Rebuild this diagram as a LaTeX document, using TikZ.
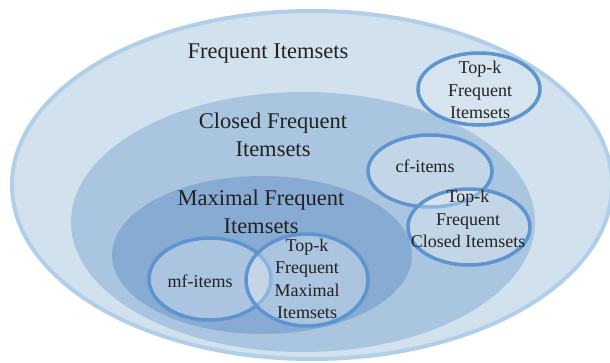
\documentclass[tikz,border=0pt]{standalone}
\usepackage{fontspec}
\setmainfont{Liberation Serif}
\definecolor{outerfill}{HTML}{D1E1EE}
\definecolor{outerdraw}{HTML}{B2CFEA}
\definecolor{closedfill}{HTML}{AAC5DF}
\definecolor{maxfill}{HTML}{87ABD2}
\definecolor{ringblue}{HTML}{5E94D0}
\definecolor{txt}{HTML}{222222}
\tikzset{
  bigtext/.style={font=\fontsize{22.5}{28}\selectfont, text=txt, align=center, inner sep=0pt},
  smalltext/.style={font=\fontsize{18}{22.5}\selectfont, text=txt, align=center, inner sep=0pt},
  ring/.style={draw=ringblue, line width=3.5pt, fill=white, fill opacity=0.3},
}
\begin{document}
\begin{tikzpicture}[x=1pt,y=-1pt]
\useasboundingbox (0,0) rectangle (610,362);
\clip (0,0) rectangle (610,362);
\fill[white] (0,0) rectangle (610,362);
% outer
\draw[fill=outerfill, draw=outerdraw, line width=4pt] (312,185) ellipse [x radius=300, y radius=174];
% closed
\fill[closedfill] (303,222) ellipse [x radius=232, y radius=130];
% maximal
\fill[maxfill] (262,255) ellipse [x radius=150, y radius=79];
% small rings
\draw[ring, fill opacity=0.1] (479,89) ellipse [x radius=61, y radius=36];
\draw[ring] (430,171) ellipse [x radius=62, y radius=36];
\draw[ring] (469,227) ellipse [x radius=61, y radius=38];
\draw[ring] (210,279) ellipse [x radius=61, y radius=41];
\draw[ring] (307,280) ellipse [x radius=61, y radius=46];
% labels
\node[bigtext] (fi) at (268,54) {Frequent Itemsets};
\node[bigtext] (cfi) at (273,135) {Closed Frequent\\Itemsets};
\node[bigtext] (mfi) at (261,212) {Maximal Frequent\\Itemsets};
\node[smalltext] (tkfi) at (480,90) {Top-k\\Frequent\\Itemsets};
\node[smalltext] (cfitems) at (425,166) {cf-items};
\node[smalltext] (tkfci) at (468,219) {Top-k\\Frequent\\Closed Itemsets};
\node[smalltext] (mfitems) at (200,281) {mf-items};
\node[smalltext] (tkfmi) at (307,279) {Top-k\\Frequent\\Maximal\\Itemsets};
\end{tikzpicture}
\end{document}
